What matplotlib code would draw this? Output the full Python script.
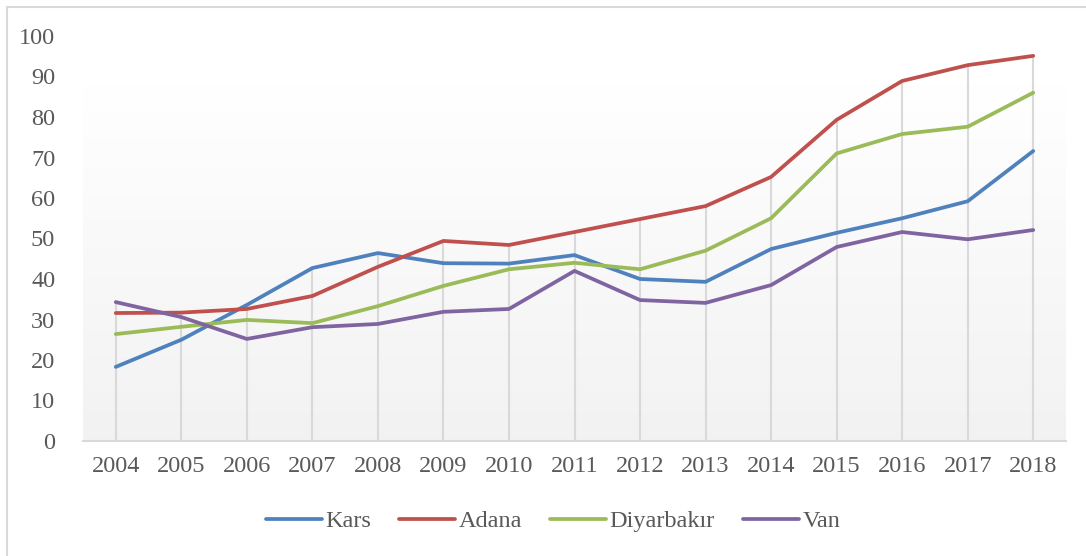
import numpy as np
import matplotlib.pyplot as plt
from matplotlib.colors import LinearSegmentedColormap
from matplotlib.patches import Rectangle

years = [str(y) for y in range(2004, 2019)]
kars = [18.3, 25.0, 33.6, 42.7, 46.4, 43.9, 43.8, 45.9, 40.0, 39.3, 47.4, 51.4, 55.0, 59.2, 71.6]
adana = [31.6, 31.7, 32.6, 35.8, 43.0, 49.4, 48.4, 51.6, 54.8, 58.0, 65.2, 79.3, 88.9, 92.8, 95.1]
diyarbakir = [26.4, 28.2, 29.9, 29.1, 33.3, 38.3, 42.4, 44.0, 42.4, 47.0, 55.0, 71.0, 75.8, 77.6, 86.0]
van = [34.3, 30.6, 25.2, 28.1, 28.9, 31.9, 32.6, 42.0, 34.8, 34.1, 38.5, 47.9, 51.6, 49.8, 52.1]
names = ["Kars", "Adana", "Diyarbakır", "Van"]
colors = ["#4F81BD", "#C0504D", "#9BBB59", "#8064A2"]

plt.rcParams['font.family'] = ['Liberation Serif', 'DejaVu Serif']

W, H = 1086, 556
fig = plt.figure(figsize=(W / 100, H / 100), dpi=100)
ax = fig.add_axes([83 / W, (H - 441) / H, (1066 - 83) / W, (441 - 36) / H])

x = np.arange(len(years))
ax.set_xlim(-0.5, len(years) - 0.5)
ax.set_ylim(0, 100)

# plot area gradient, light grey at the bottom fading to white at the top
grad = np.linspace(0.0, 1.0, 256).reshape(-1, 1)
cm = LinearSegmentedColormap.from_list('g', ['#F2F2F2', '#FFFFFF'])
ax.imshow(grad, extent=[-0.5, len(years) - 0.5, 0, 88], aspect='auto',
          cmap=cm, origin='lower', zorder=0)

# drop lines
series = [kars, adana, diyarbakir, van]
tops = np.max(np.array(series), axis=0)
ax.vlines(x, 0, tops, color='#D9D9D9', lw=1.5, zorder=1)

for s, n, c in zip(series, names, colors):
    ax.plot(x, s, color=c, lw=2.7, label=n, zorder=3, solid_capstyle='round')

for sp in ['top', 'right', 'left']:
    ax.spines[sp].set_visible(False)
ax.spines['bottom'].set_color('#D9D9D9')
ax.spines['bottom'].set_linewidth(1.5)

ax.set_xticks(x)
ax.set_xticklabels(years)
ax.set_yticks(range(0, 101, 10))
ax.tick_params(length=0, labelsize=17.5, colors='#595959')
ax.tick_params(axis='x', pad=11)
ax.tick_params(axis='y', pad=20)

fig.legend(loc='center', bbox_to_anchor=(553 / W, (H - 521) / H), ncol=4, frameon=False,
           fontsize=17.5, handlelength=2.3, handletextpad=0.15, columnspacing=1.15,
           labelcolor='#595959')

fig.patches.append(Rectangle((7 / W, -0.1), 2, 1.1 - 7 / H, transform=fig.transFigure,
                             fill=False, edgecolor='#D9D9D9', lw=1.5))

fig.savefig('out.png', dpi=100)
